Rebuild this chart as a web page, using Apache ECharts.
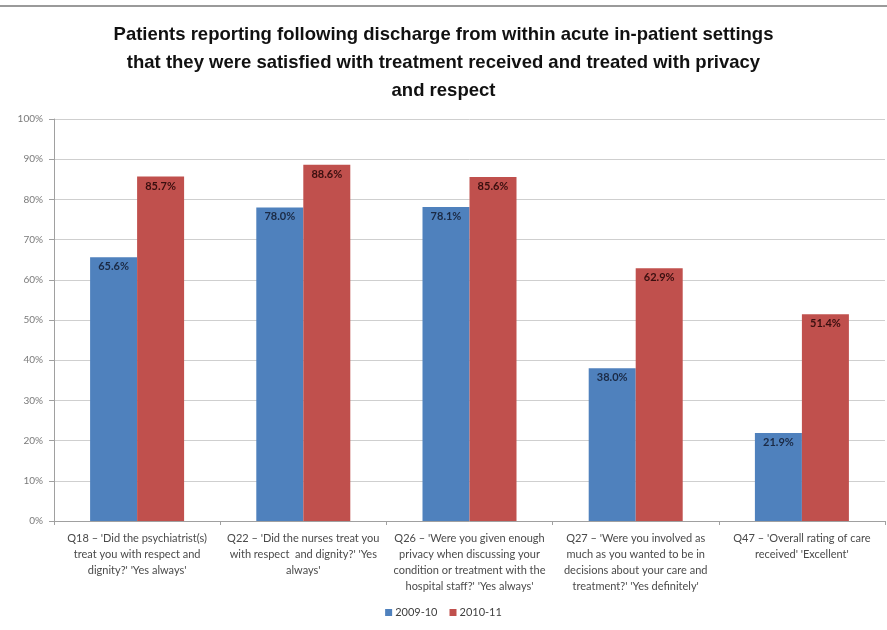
<!DOCTYPE html>
<html>
<head>
<meta charset="utf-8">
<script src="https://cdn.jsdelivr.net/npm/echarts@6/dist/echarts.min.js"></script>
<style>
  html, body { margin: 0; padding: 0; background: #ffffff; }
  #chart { width: 887px; height: 630px; }
</style>
</head>
<body>
<div id="chart"></div>
<script>
// Survey questions (x-axis categories), wrapped as printed under each bar pair
const categories = [
  "Q18 – 'Did the psychiatrist(s)\ntreat you with respect and\ndignity?' 'Yes always'",
  "Q22 – 'Did the nurses treat you\nwith respect  and dignity?' 'Yes\nalways'",
  "Q26 – 'Were you given enough\nprivacy when discussing your\ncondition or treatment with the\nhospital staff?' 'Yes always'",
  "Q27 – 'Were you involved as\nmuch as you wanted to be in\ndecisions about your care and\ntreatment?' 'Yes definitely'",
  "Q47 – 'Overall rating of care\nreceived' 'Excellent'"
];

const seriesNames = ['2009-10', '2010-11'];

// Percentage of patients answering positively
const values2009 = [65.6, 78.0, 78.1, 38.0, 21.9];
const values2010 = [85.7, 88.6, 85.6, 62.9, 51.4];

const yTicks = [0, 10, 20, 30, 40, 50, 60, 70, 80, 90, 100];

const titleText = 'Patients reporting following discharge from within acute in-patient settings\nthat they were satisfied with treatment received and treated with privacy\nand respect';

const chart = echarts.init(document.getElementById('chart'), null, { renderer: 'canvas' });

const labelFont = "'Lato', 'Liberation Sans', sans-serif";

function barLabel(color) {
  return {
    show: true,
    position: 'insideTop',
    distance: 4,
    formatter: p => p.value.toFixed(1) + '%',
    fontFamily: labelFont,
    fontWeight: 'bold',
    fontSize: 11,
    color: color
  };
}

chart.setOption({
  animation: false,
  backgroundColor: '#ffffff',
  title: {
    text: titleText,
    left: 'center',
    top: 16,
    textStyle: {
      fontFamily: "'Liberation Sans', sans-serif",
      fontWeight: 'bold',
      fontSize: 18.5,
      lineHeight: 28,
      color: '#111111'
    }
  },
  graphic: [{
    type: 'line',
    shape: { x1: 0, y1: 6, x2: 887, y2: 6 },
    style: { stroke: '#9a9a9a', lineWidth: 2 }
  }],
  legend: {
    data: seriesNames,
    bottom: 7,
    left: 'center',
    itemWidth: 7,
    itemHeight: 7,
    itemGap: 12,
    icon: 'rect',
    textStyle: { fontFamily: labelFont, fontSize: 11, color: '#404040', padding: [0, 0, 0, -2] }
  },
  grid: {
    left: 54,
    right: 2,
    top: 119,
    bottom: 109,
    containLabel: false
  },
  xAxis: {
    type: 'category',
    data: categories,
    axisLine: { lineStyle: { color: '#a0a0a0', width: 1 } },
    axisTick: { show: true, alignWithLabel: false, length: 4, lineStyle: { color: '#a0a0a0' } },
    axisLabel: {
      interval: 0,
      margin: 9,
      fontFamily: labelFont,
      fontSize: 11,
      lineHeight: 16,
      color: '#4a4a4a',
      align: 'center'
    }
  },
  yAxis: {
    type: 'value',
    min: 0,
    max: 100,
    interval: 10,
    axisLine: { show: true, lineStyle: { color: '#a0a0a0', width: 1 } },
    axisTick: { show: true, length: 5, lineStyle: { color: '#a0a0a0' } },
    splitLine: { show: true, lineStyle: { color: '#cfcfcf', width: 1 } },
    axisLabel: {
      margin: 11,
      fontFamily: labelFont,
      fontSize: 10,
      color: '#7a7a7a',
      formatter: v => (yTicks.includes(v) ? v + '%' : '')
    }
  },
  series: [
    {
      name: seriesNames[0],
      type: 'bar',
      data: values2009,
      barWidth: 47,
      barGap: '0%',
      itemStyle: { color: '#4f81bd' },
      label: barLabel('#1b2a45')
    },
    {
      name: seriesNames[1],
      type: 'bar',
      data: values2010,
      barWidth: 47,
      barGap: '0%',
      itemStyle: { color: '#c0504d' },
      label: barLabel('#3a0f0f')
    }
  ]
});
</script>
</body>
</html>
